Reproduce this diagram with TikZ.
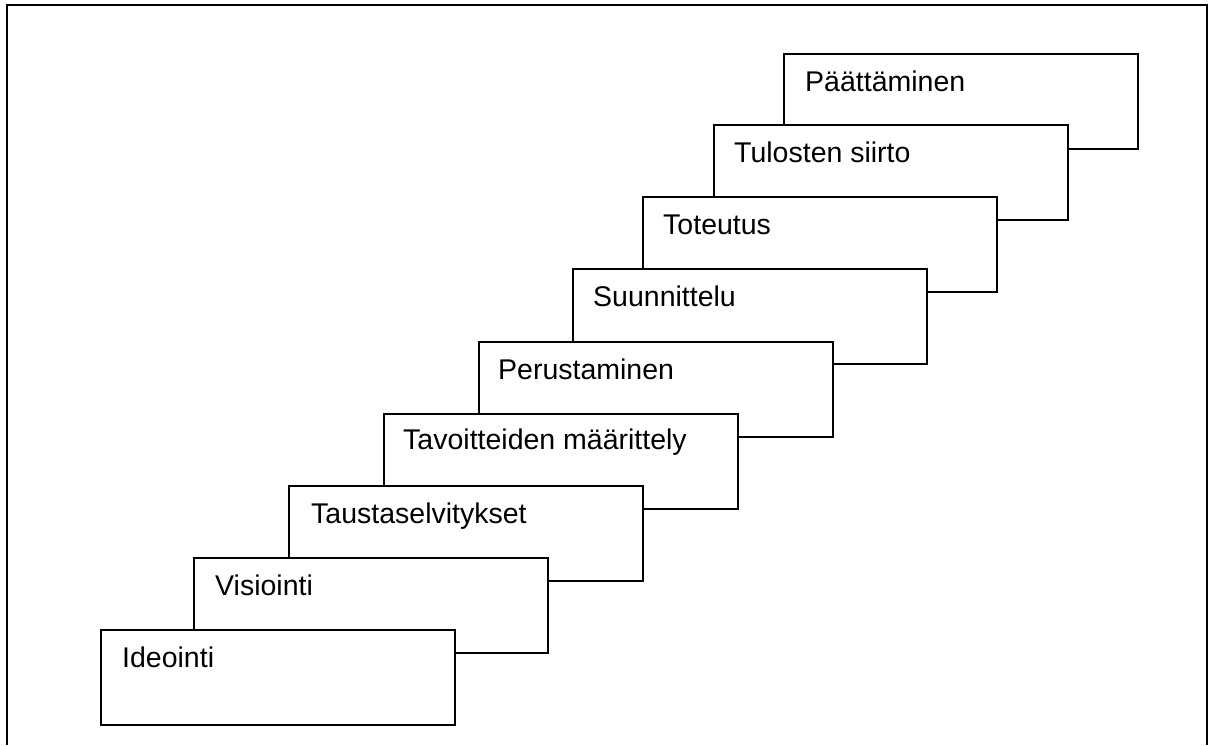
\documentclass[tikz,border=0pt]{standalone}
\usepackage{fontspec}
\setmainfont{Liberation Sans}
\tikzset{
  phasebox/.style={draw, fill=white, line width=1.7pt, minimum width=354pt,
    minimum height=95pt, inner sep=0pt, anchor=north west},
  phaselabel/.style={anchor=base west, inner sep=0pt,
    font=\fontsize{28.5}{34}\selectfont}
}
\begin{document}
\begin{tikzpicture}[x=1pt,y=-1pt]
    \useasboundingbox (0,0) rectangle (1216,745);
    % outer frame, open at the bottom
    \draw[line width=1.8pt] (7,745) -- (7,5) -- (1207,5) -- (1207,745);
    % steps, top one first so that the lower ones lie in front
    \node[phasebox] (paat) at (783,53) {};
    \node[phaselabel] (paatL) at ([shift={(22,38)}]paat.north west) {Päättäminen};
    \node[phasebox] (siirto) at (713,124) {};
    \node[phaselabel] (siirtoL) at ([shift={(21,38)}]siirto.north west) {Tulosten siirto};
    \node[phasebox] (tot) at (642,196) {};
    \node[phaselabel] (totL) at ([shift={(21,38)}]tot.north west) {Toteutus};
    \node[phasebox] (suun) at (572,268) {};
    \node[phaselabel] (suunL) at ([shift={(21,38)}]suun.north west) {Suunnittelu};
    \node[phasebox] (peru) at (478,341) {};
    \node[phaselabel] (peruL) at ([shift={(20,38)}]peru.north west) {Perustaminen};
    \node[phasebox] (tavo) at (383,413) {};
    \node[phaselabel] (tavoL) at ([shift={(20,36)}]tavo.north west) {Tavoitteiden määrittely};
    \node[phasebox] (taus) at (288,485) {};
    \node[phaselabel] (tausL) at ([shift={(23,38)}]taus.north west) {Taustaselvitykset};
    \node[phasebox] (visi) at (193,557) {};
    \node[phaselabel] (visiL) at ([shift={(22,38)}]visi.north west) {Visiointi};
    \node[phasebox] (ideo) at (100,629) {};
    \node[phaselabel] (ideoL) at ([shift={(22,38)}]ideo.north west) {Ideointi};
\end{tikzpicture}
\end{document}
